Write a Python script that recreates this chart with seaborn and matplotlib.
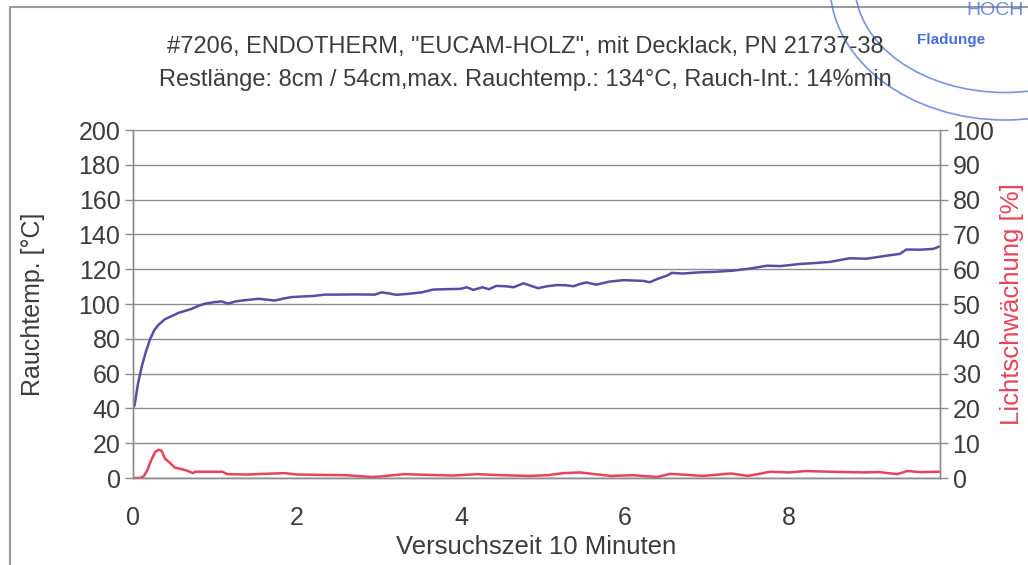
import numpy as np
import pandas as pd
import matplotlib
matplotlib.use("Agg")
import matplotlib.pyplot as plt
import seaborn as sns
from matplotlib.patches import Rectangle, Ellipse

# ---------------- data ----------------
title_line1 = '#7206, ENDOTHERM, "EUCAM-HOLZ", mit Decklack, PN 21737-38'
title_line2 = 'Restlänge: 8cm / 54cm,max. Rauchtemp.: 134°C, Rauch-Int.: 14%min'
x_label = "Versuchszeit 10 Minuten"
y_left_label = "Rauchtemp. [°C]"
y_right_label = "Lichtschwächung [%]"

temp_time = [0.0, 0.02, 0.06, 0.106, 0.16, 0.21, 0.26, 0.31, 0.39, 0.47, 0.55, 0.63,
             0.71, 0.8, 0.88, 0.98, 1.08, 1.16, 1.25, 1.33, 1.43, 1.53, 1.63, 1.73,
             1.84, 1.94, 2.1, 2.2, 2.34, 2.5, 2.7, 2.95, 3.03, 3.13, 3.21, 3.35, 3.52,
             3.66, 3.8, 3.99, 4.07, 4.15, 4.26, 4.34, 4.43, 4.55, 4.64, 4.76, 4.85,
             4.94, 5.05, 5.17, 5.27, 5.37, 5.45, 5.53, 5.65, 5.8, 5.98, 6.1, 6.22,
             6.3, 6.4, 6.51, 6.57, 6.7, 6.91, 7.1, 7.32, 7.5, 7.73, 7.9, 8.13, 8.3,
             8.5, 8.74, 8.94, 9.15, 9.35, 9.43, 9.6, 9.76, 9.83]
temp_values = [40, 42, 54, 64, 73, 80, 85, 88, 91.3, 93, 94.8, 96,
               97.1, 99, 100.2, 101, 101.5, 100.2, 101.5, 102, 102.5, 103, 102.5, 102,
               103.2, 104, 104.4, 104.6, 105.4, 105.4, 105.5, 105.4, 106.7, 106, 105.3, 105.8, 106.7,
               108.3, 108.5, 108.7, 109.6, 108.1, 109.6, 108.5, 110.4, 110.2, 109.6, 111.9, 110.5,
               109.1, 110.2, 110.9, 110.8, 110.2, 111.5, 112.4, 111.1, 112.8, 113.7, 113.5, 113.3,
               112.5, 114.5, 116.3, 117.9, 117.5, 118.2, 118.5, 119.2, 120.2, 122, 121.8, 123, 123.5,
               124.2, 126.3, 126, 127.5, 128.8, 131.3, 131.2, 131.7, 133]

light_time = [0, 0.085, 0.13, 0.17, 0.22, 0.27, 0.31, 0.35, 0.39, 0.43, 0.51, 0.6,
              0.67, 0.73, 0.76, 0.9, 1.09, 1.15, 1.4, 1.6, 1.85, 2.0, 2.3, 2.6, 2.9,
              3.0, 3.3, 3.6, 3.9, 4.2, 4.5, 4.84, 5.05, 5.25, 5.45, 5.6, 5.82, 6.1,
              6.39, 6.55, 6.75, 6.95, 7.29, 7.5, 7.77, 8.0, 8.2, 8.5, 8.9, 9.1, 9.32,
              9.44, 9.6, 9.83]
light_values = [0, 0, 0.5, 2, 5, 7.5, 8.1, 7.8, 5.5, 4.8, 3.0, 2.5,
                2.0, 1.4, 1.8, 1.8, 1.8, 1.1, 1.0, 1.2, 1.4, 1.0, 0.9, 0.8, 0.3,
                0.4, 1.1, 0.9, 0.7, 1.1, 0.8, 0.6, 0.8, 1.4, 1.6, 1.2, 0.6, 0.8,
                0.3, 1.2, 0.9, 0.6, 1.3, 0.6, 1.8, 1.6, 2.0, 1.8, 1.6, 1.7, 1.1,
                2.0, 1.7, 1.8]

x_tick_labels = ["0", "2", "4", "6", "8"]
left_ticks = [0, 20, 40, 60, 80, 100, 120, 140, 160, 180, 200]
right_ticks = [0, 10, 20, 30, 40, 50, 60, 70, 80, 90, 100]

df_temp = pd.DataFrame({"t": temp_time, "v": temp_values})
df_light = pd.DataFrame({"t": light_time, "v": light_values})

# ---------------- style ----------------
sns.set_style("white")
plt.rcParams["font.family"] = ["Liberation Sans", "DejaVu Sans"]

text_col = "#3c3c3c"
grid_col = "#8c8c8c"
blue_col = "#5a4ca6"
red_col = "#e8435a"

W, H = 1028, 565
fig = plt.figure(figsize=(W / 100, H / 100), dpi=100)
ax = fig.add_axes([133 / W, 1 - 478 / H, (940 - 133) / W, (478 - 130) / H])
ax2 = ax.twinx()

sns.lineplot(data=df_temp, x="t", y="v", ax=ax, color=blue_col, lw=1.8)
sns.lineplot(data=df_light, x="t", y="v", ax=ax2, color=red_col, lw=1.8)

ax.set_xlim(0, 9.84)
ax.set_ylim(0, 200)
ax2.set_ylim(0, 100)

ax.set_yticks(left_ticks)
ax2.set_yticks(right_ticks)
ax.set_xticks([0, 2, 4, 6, 8])
ax.set_xticklabels(x_tick_labels)
ax.set_xticks(np.arange(0, 10, 1), minor=True)

ax.yaxis.grid(True, color=grid_col, lw=1.0)
ax.xaxis.grid(False)
ax2.grid(False)
ax.set_axisbelow(True)

for a in (ax, ax2):
    for s in a.spines.values():
        s.set_color(grid_col)
        s.set_linewidth(1.0)
    a.spines["top"].set_visible(False)

tick_fs = 18
ax.tick_params(axis="y", which="major", direction="out", length=6, width=1,
               color=grid_col, labelsize=tick_fs, labelcolor=text_col, pad=3)
ax2.tick_params(axis="y", which="major", direction="out", length=6, width=1,
                color=grid_col, labelsize=tick_fs, labelcolor=text_col, pad=3)
ax.tick_params(axis="x", which="both", direction="out", length=6, width=1,
               color=grid_col, labelsize=tick_fs, labelcolor=text_col, pad=14)
ax.tick_params(axis="x", which="minor", labelbottom=False)

ax.set_xlabel(x_label, fontsize=18.5, color=text_col, labelpad=4)
ax.set_ylabel(y_left_label, fontsize=18, color=text_col, labelpad=24)
ax2.set_ylabel(y_right_label, fontsize=18.5, color=red_col, labelpad=4)

fig.text(525 / W, 1 - 47 / H, title_line1, ha="center", va="center",
         fontsize=17, color=text_col)
fig.text(525 / W, 1 - 80 / H, title_line2, ha="center", va="center",
         fontsize=17, color=text_col)

# outer chart-area frame (extends past right/bottom edges as in the scan)
fig.patches.append(Rectangle((10 / W, -0.05), 1.1, 1 - 7 / H + 0.05,
                             transform=fig.transFigure, fill=False,
                             edgecolor="#9a9a9a", lw=1.5))

# stamp remnants in the top-right corner
stamp_col = "#4a6fd8"
for (w, h) in [(350, 270), (300, 215)]:
    fig.patches.append(Ellipse((1005 / W, 1 - (-15) / H), w / W, h / H,
                               transform=fig.transFigure, fill=False,
                               edgecolor=stamp_col, lw=1.2, alpha=0.75))
fig.text(917 / W, 1 - 40 / H, "Fladunge", ha="left", va="center",
         fontsize=11, fontweight="bold", color=stamp_col)
fig.text(1024 / W, 1 - 2 / H, "HOCH", ha="right", va="top",
         fontsize=14, color=stamp_col, alpha=0.8)

fig.savefig("out.png", dpi=100)
